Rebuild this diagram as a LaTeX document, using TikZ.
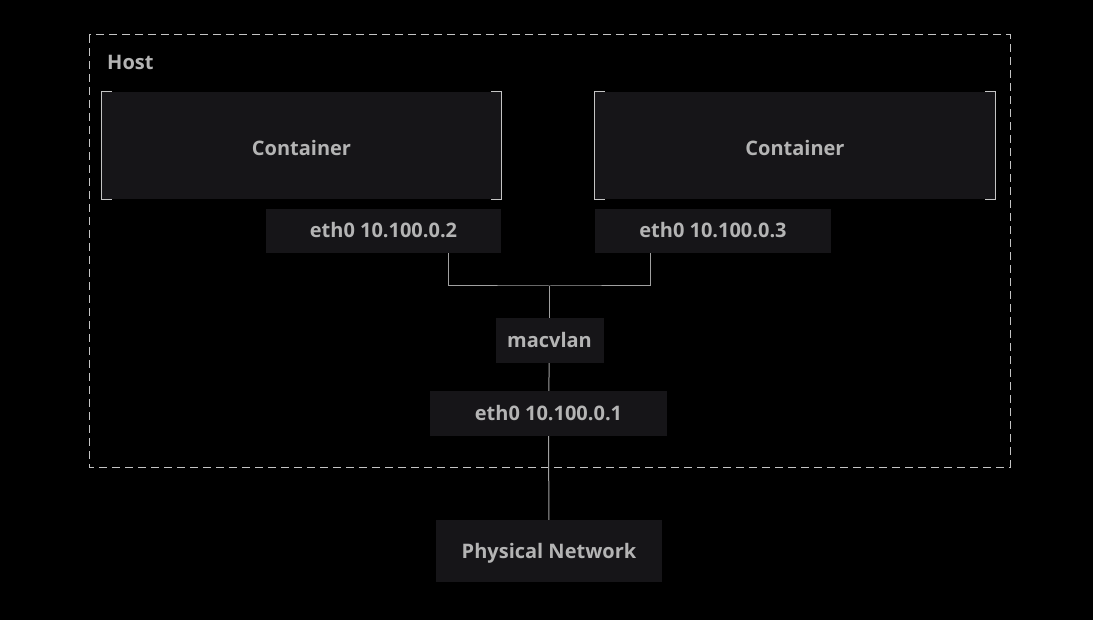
\documentclass[tikz,border=0pt]{standalone}
\usepackage{fontspec}
\setmainfont{Open Sans}
\usepackage{xcolor}
\definecolor{bgblack}{HTML}{000000}
\definecolor{boxfill}{HTML}{161518}
\definecolor{txtgrey}{HTML}{B4B4B4}
\definecolor{wiregrey}{HTML}{A0A0A0}
\definecolor{edgegrey}{HTML}{C4C4C4}

\tikzset{
  blk/.style={fill=boxfill, text=txtgrey, inner sep=0pt, text height=14pt, text depth=0pt,
    font=\fontsize{20}{24}\selectfont\bfseries},
  wire/.style={draw=wiregrey, line width=1pt},
  brk/.style={draw=edgegrey, line width=1.2pt}
}

\begin{document}
\begin{tikzpicture}[x=1pt, y=-1pt]
         \fill[bgblack] (0,0) rectangle (1093,620);
         \useasboundingbox (0,0) rectangle (1093,620);
         % host border
         \draw[edgegrey, dashed, dash pattern=on 8pt off 5pt, line width=1pt] (89,35) rectangle (1010,467);
         \node[text=txtgrey, anchor=west, inner sep=0pt, text height=14pt, text depth=0pt,
           font=\fontsize{20}{24}\selectfont\bfseries] (H) at (107,63) {Host};
         % containers
         \node[blk, minimum width=399pt, minimum height=107pt] (C1) at (301.5,145.5) {};
         \node[blk, minimum width=400pt, minimum height=107pt] (C2) at (795,145.5) {};
         \node[text=txtgrey, inner sep=0pt, text height=14pt, text depth=0pt,
           font=\fontsize{20}{24}\selectfont\bfseries] at ([yshift=-3.5pt]C1.center) {Container};
         \node[text=txtgrey, inner sep=0pt, text height=14pt, text depth=0pt,
           font=\fontsize{20}{24}\selectfont\bfseries] at ([yshift=-3.5pt]C2.center) {Container};
         \draw[brk] ([xshift=10pt]C1.north west) -- (C1.north west) -- (C1.south west) -- ([xshift=10pt]C1.south west);
         \draw[brk] ([xshift=-10pt]C1.north east) -- (C1.north east) -- (C1.south east) -- ([xshift=-10pt]C1.south east);
         \draw[brk] ([xshift=10pt]C2.north west) -- (C2.north west) -- (C2.south west) -- ([xshift=10pt]C2.south west);
         \draw[brk] ([xshift=-10pt]C2.north east) -- (C2.north east) -- (C2.south east) -- ([xshift=-10pt]C2.south east);
         % interfaces
         \node[blk, minimum width=235pt, minimum height=44pt] (E2) at (383.5,231) {eth0 10.100.0.2};
         \node[blk, minimum width=236pt, minimum height=44pt] (E3) at (713,231) {eth0 10.100.0.3};
         \node[blk, minimum width=108pt, minimum height=45pt] (M) at (549.5,340.5) {macvlan};
         \node[blk, minimum width=237pt, minimum height=45pt] (E1) at (548.5,413.5) {eth0 10.100.0.1};
         \node[blk, minimum width=226pt, minimum height=62pt] (P) at (549,551) {Physical Network};
         \coordinate (J) at (549.5,286);
         \draw[wire] (E2.south -| 448,0) |- (J) -| (E3.south -| 650,0);
         \draw[wire] (J) -- (M);
         \draw[wire] (M) -- (E1);
         \draw[wire] (E1) -- (P);
      \end{tikzpicture}
\end{document}
